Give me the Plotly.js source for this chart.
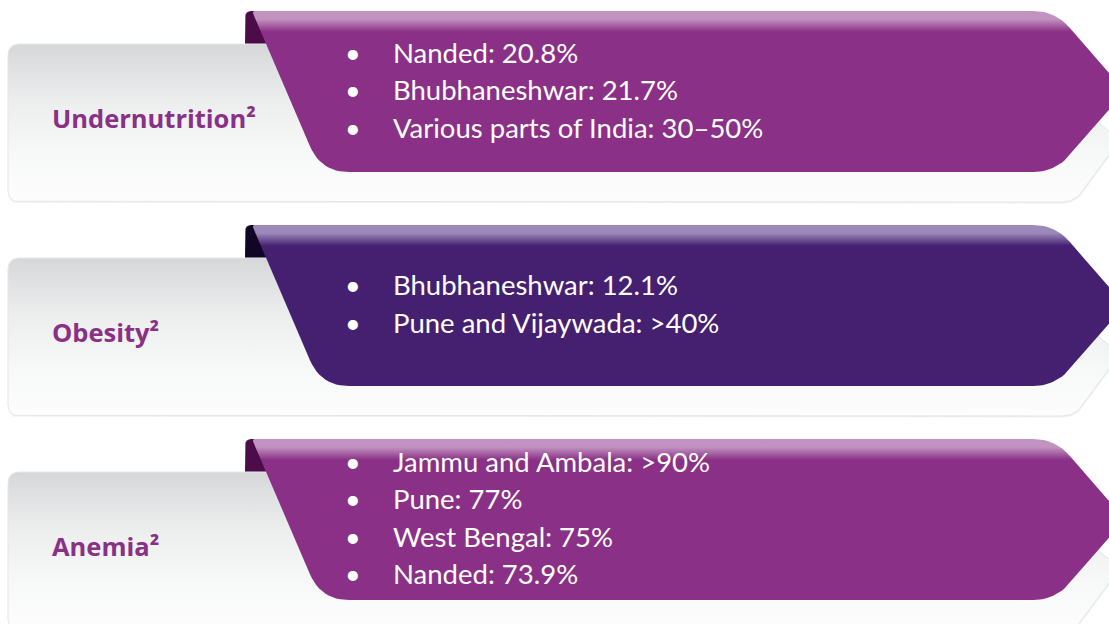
<!DOCTYPE html>
<html><head><meta charset="utf-8">
<script src="https://cdn.plot.ly/plotly-3.0.1.min.js"></script>
<style>html,body{margin:0;padding:0;background:#fff;} #chart{width:1109px;height:624px;}</style>
</head><body><div id="chart"></div>
<script>
const categories = ["Undernutrition", "Obesity", "Anemia"];
const footnote = "²";
const undernutritionItems = ["Nanded: 20.8%", "Bhubhaneshwar: 21.7%", "Various parts of India: 30–50%"];
const obesityItems = ["Bhubhaneshwar: 12.1%", "Pune and Vijaywada: >40%"];
const anemiaItems = ["Jammu and Ambala: >90%", "Pune: 77%", "West Bengal: 75%", "Nanded: 73.9%"];
const itemsByCategory = [undernutritionItems, obesityItems, anemiaItems];

const W = 1109, H = 624, PITCH = 214;
const palette = [
  {base:'#8a3086', light:'#c293c0', curl:'#4c0b49'},
  {base:'#452071', light:'#9c89ba', curl:'#120628'},
  {base:'#8a3086', light:'#c293c0', curl:'#4c0b49'}
];
const labelColor = '#8a3086';

function roundedPoly(verts){
  const n = verts.length, xs = [], ys = [];
  for (let i = 0; i < n; i++){
    const [x, y, r] = verts[i];
    if (!r){ xs.push(x); ys.push(y); continue; }
    const p = verts[(i-1+n)%n], q = verts[(i+1)%n];
    const d1 = Math.hypot(p[0]-x, p[1]-y), d2 = Math.hypot(q[0]-x, q[1]-y);
    const a = [x+(p[0]-x)*r/d1, y+(p[1]-y)*r/d1];
    const b = [x+(q[0]-x)*r/d2, y+(q[1]-y)*r/d2];
    for (let k = 0; k <= 12; k++){
      const t = k/12;
      xs.push((1-t)*(1-t)*a[0] + 2*(1-t)*t*x + t*t*b[0]);
      ys.push((1-t)*(1-t)*a[1] + 2*(1-t)*t*y + t*t*b[1]);
    }
  }
  xs.push(xs[0]); ys.push(ys[0]);
  return {xs, ys};
}

const traces = [], annotations = [];
categories.forEach((cat, i) => {
  const oy = i*PITCH;
  const T = 11+oy, B = 172+oy, G = 44+oy, GB = 202+oy, M = (T+B)/2;
  const pal = palette[i];
  // curl
  const c = roundedPoly([[245,G,0],[245,T,7],[258,T,0],[270,G,0]]);
  traces.push({x:c.xs, y:c.ys, type:'scatter', mode:'lines', fill:'toself',
    fillcolor:pal.curl, line:{width:0, color:pal.curl}, hoverinfo:'skip'});
  // gray box shadow
  const s = roundedPoly([[8,G+1.5,12],[1000,G+1.5,0],[1121,G+97,0],[1076,GB+1.5,14],[8,GB+1.5,12]]);
  traces.push({x:s.xs, y:s.ys, type:'scatter', mode:'lines', fill:'toself',
    fillcolor:'rgba(218,220,223,0.4)', line:{width:0}, hoverinfo:'skip'});
  // gray box
  const g = roundedPoly([[8,G,12],[1000,G,0],[1120,G+96,0],[1075,GB,14],[8,GB,12]]);
  traces.push({x:g.xs, y:g.ys, type:'scatter', mode:'lines', fill:'toself',
    fillgradient:{type:'vertical', start:G, stop:GB,
      colorscale:[[0,'#d5d7d9'],[0.35,'#eceded'],[0.7,'#f7f8f8'],[1,'#fdfdfd']]},
    line:{width:1, color:'#e5e6e8'}, hoverinfo:'skip'});
  // banner
  const b = roundedPoly([[252,T,3],[1055,T,22],[1125,M,0],[1055,B,22],[321,B,28]]);
  traces.push({x:b.xs, y:b.ys, type:'scatter', mode:'lines', fill:'toself',
    fillgradient:{type:'vertical', start:T, stop:B,
      colorscale:[[0,pal.light],[0.05,pal.light],[0.13,pal.base],[1,pal.base]]},
    line:{width:0, color:pal.base}, hoverinfo:'skip'});
  // label
  annotations.push({x:50, y:118+oy, xref:'x', yref:'y', xanchor:'left', yanchor:'middle',
    showarrow:false, text:'<b>'+cat+footnote+'</b>',
    font:{family:'Open Sans', size:25.5, color:labelColor}});
  const items = itemsByCategory[i];
  items.forEach((t, j) => {
    const y = M - 2 + (j-(items.length-1)/2)*37.5;
    annotations.push({x:353, y:y, xref:'x', yref:'y', xanchor:'center', yanchor:'middle',
      showarrow:false, text:'•', font:{family:'Lato', size:27, color:'#ffffff'}});
    annotations.push({x:391, y:y, xref:'x', yref:'y', xanchor:'left', yanchor:'middle',
      showarrow:false, text:t, font:{family:'Lato', size:27.5, color:'#ffffff'}});
  });
});

const layout = {
  width:W, height:H, margin:{l:0,r:0,t:0,b:0},
  paper_bgcolor:'#ffffff', plot_bgcolor:'#ffffff', showlegend:false,
  xaxis:{range:[0,W], visible:false, fixedrange:true},
  yaxis:{range:[H,0], visible:false, fixedrange:true},
  annotations:annotations
};
Plotly.newPlot('chart', traces, layout, {staticPlot:true, displayModeBar:false});
</script>
</body></html>
